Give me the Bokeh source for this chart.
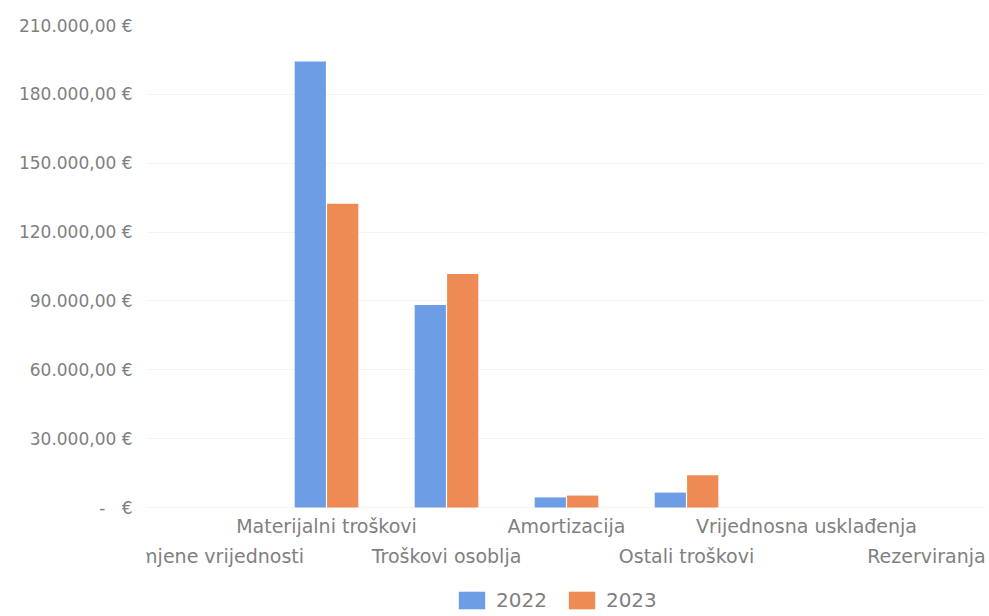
from bokeh.plotting import figure
from bokeh.models import LinearAxis, FixedTicker, Legend, LegendItem, ColumnDataSource, Range1d
from bokeh.transform import dodge
from bokeh.embed import file_html
from bokeh.resources import INLINE

categories = ["Promjene vrijednosti", "Materijalni troškovi", "Troškovi osoblja",
              "Amortizacija", "Ostali troškovi", "Vrijednosna usklađenja", "Rezerviranja"]
series_names = ["2022", "2023"]
values_2022 = [0, 194300, 88200, 4400, 6500, 0, 0]
values_2023 = [0, 132300, 101700, 5200, 14000, 0, 0]
y_ticks = [0, 30000, 60000, 90000, 120000, 150000, 180000, 210000]
y_tick_labels = ["-\u00a0\u00a0\u00a0€", "30.000,00 €", "60.000,00 €", "90.000,00 €",
                 "120.000,00 €", "150.000,00 €", "180.000,00 €", "210.000,00 €"]

BLUE = "#6d9de4"
ORANGE = "#ee8b55"
FONT = "DejaVu Sans"
GREY = "#7f7f7f"

# frame spans the whole lower area so the legend can sit below the category labels
FRAME_PX = 588
ZERO_PX = 482
y_max = y_ticks[-1]
y_min = -y_max * (FRAME_PX - ZERO_PX) / ZERO_PX

centers = [i + 0.5 for i in range(len(categories))]
src = ColumnDataSource(dict(xc=centers, v2022=values_2022, v2023=values_2023))

p = figure(x_range=Range1d(0, len(categories)), y_range=Range1d(y_min, y_max),
           width=986, height=613, output_backend="svg", toolbar_location=None,
           min_border_top=25, min_border_right=0, min_border_left=146, min_border_bottom=0,
           x_axis_location=None)
p.outline_line_color = None

r1 = p.vbar(x=dodge("xc", -0.135), top="v2022", width=0.26,
            source=src, fill_color=BLUE, line_color=None)
r2 = p.vbar(x=dodge("xc", 0.135), top="v2023", width=0.26,
            source=src, fill_color=ORANGE, line_color=None)

# y axis
p.yaxis.ticker = FixedTicker(ticks=y_ticks, minor_ticks=[])
p.yaxis.major_label_overrides = {float(t): l for t, l in zip(y_ticks, y_tick_labels)}
p.yaxis.axis_line_color = None
p.yaxis.major_tick_line_color = None
p.yaxis.minor_tick_line_color = None
p.yaxis.major_tick_out = 0
p.yaxis.minor_tick_out = 0
p.yaxis.major_label_text_font = FONT
p.yaxis.major_label_text_font_size = "17px"
p.yaxis.major_label_text_color = GREY
p.yaxis.major_label_standoff = 14

p.xgrid.grid_line_color = None
p.ygrid.ticker = FixedTicker(ticks=y_ticks, minor_ticks=[])
p.ygrid.grid_line_color = "#f4f4f4"

# x axes: staggered labels in two rows, drawn at value 0
upper_ticks = [centers[i] for i in range(len(categories)) if i % 2 == 1]
lower_ticks = [centers[i] for i in range(len(categories)) if i % 2 == 0]
for ticks, st in ((upper_ticks, 7), (lower_ticks, 37)):
    ax = LinearAxis(ticker=FixedTicker(ticks=ticks, minor_ticks=[]), fixed_location=0)
    ax.major_label_overrides = {float(c): categories[centers.index(c)] for c in ticks}
    ax.axis_line_color = None
    ax.major_tick_line_color = None
    ax.minor_tick_line_color = None
    ax.major_tick_out = 0
    ax.minor_tick_out = 0
    ax.major_label_text_font = FONT
    ax.major_label_text_font_size = "19px"
    ax.major_label_text_color = GREY
    ax.major_label_standoff = st
    p.add_layout(ax, "below")

legend = Legend(items=[LegendItem(label=series_names[0], renderers=[r1]),
                       LegendItem(label=series_names[1], renderers=[r2])],
                orientation="horizontal", location=(309, 1),
                glyph_width=33, glyph_height=22, label_standoff=8, spacing=18,
                label_text_font=FONT, label_text_font_size="20px", label_text_color=GREY,
                border_line_color=None, background_fill_alpha=0, padding=0, margin=0)
p.add_layout(legend, "center")

open("out.html", "w").write(file_html(p, INLINE))
